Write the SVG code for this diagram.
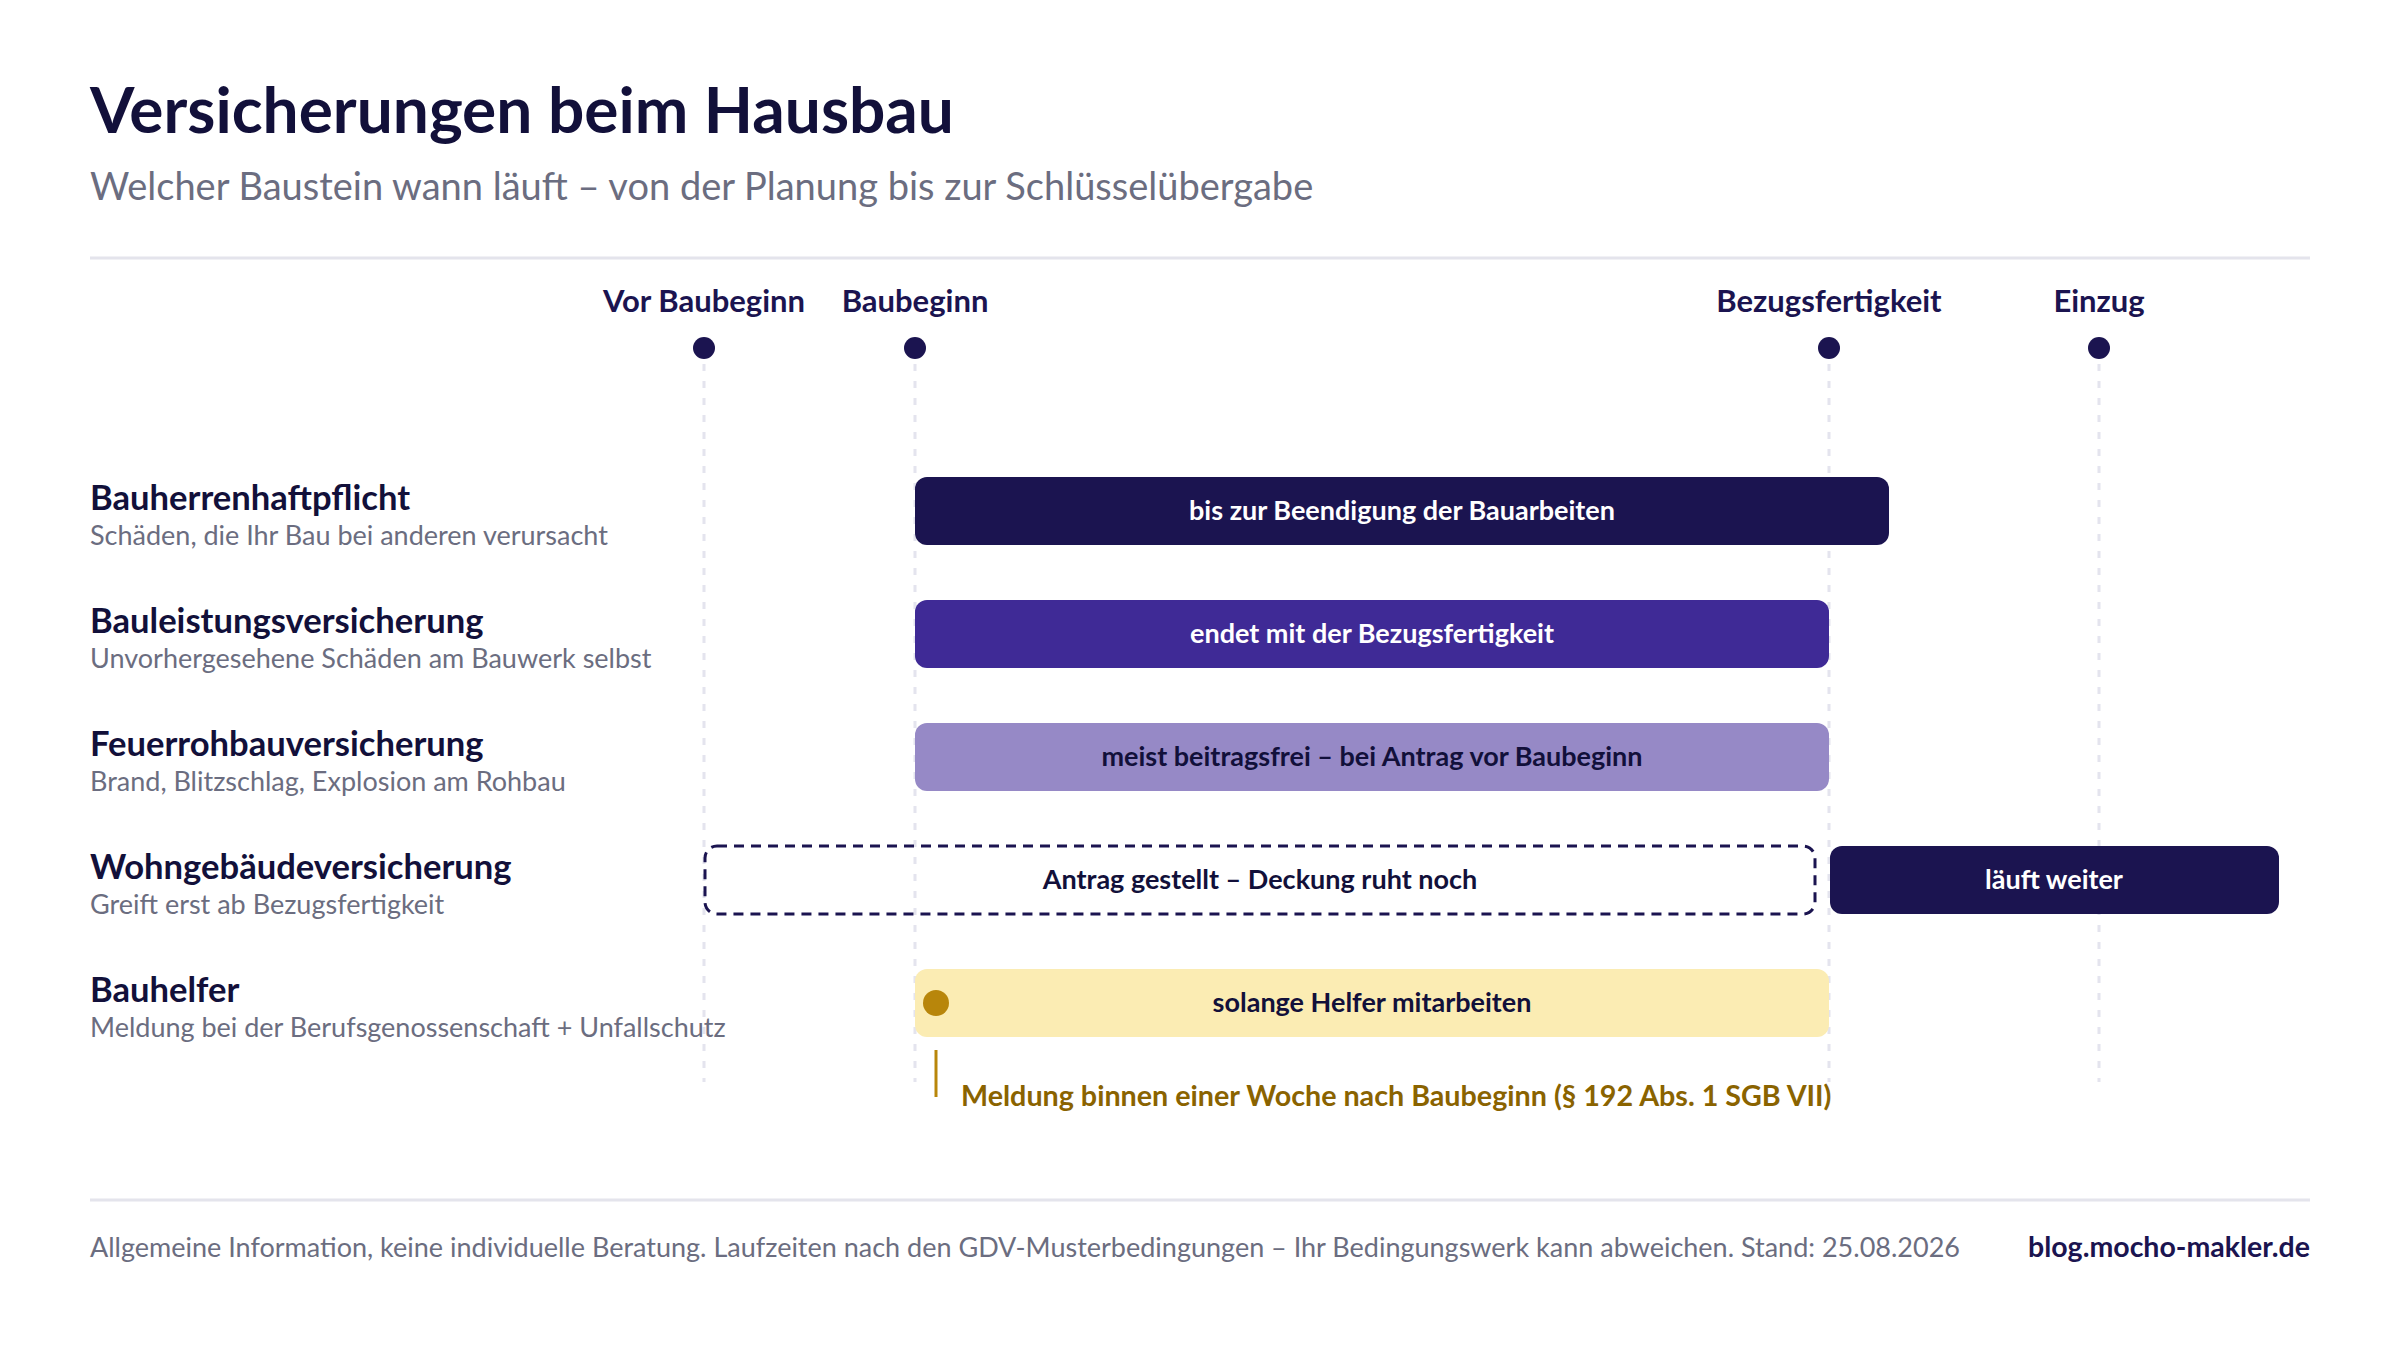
<svg xmlns="http://www.w3.org/2000/svg" width="2400" height="1350" viewBox="0 0 2400 1350">
  <style>
    text { font-family: Lato, "Noto Sans", "Liberation Sans", sans-serif; }
    .title { font-size: 64px; font-weight: 700; fill: #12103a; }
    .subtitle { font-size: 38px; font-weight: 400; fill: #6b6d80; }
    .ms { font-size: 31px; font-weight: 700; fill: #1b1450; text-anchor: middle; }
    .rowt { font-size: 34.6px; font-weight: 700; fill: #12103a; }
    .rows { font-size: 27px; font-weight: 400; fill: #6b6d80; }
    .bl { font-size: 27px; font-weight: 700; text-anchor: middle; }
    .light { fill: #ffffff; }
    .dark { fill: #12103a; }
    .grid { stroke: #e4e4ee; stroke-width: 3; stroke-dasharray: 7 10; fill: none; }
    .sep { stroke: #e4e4ec; stroke-width: 3; }
    .dot { fill: #1b1450; }
    .foot { font-size: 27px; font-weight: 400; fill: #6b6d80; }
    .url { font-size: 28.5px; font-weight: 700; fill: #1b1450; text-anchor: end; }
  </style>
  <rect x="0" y="0" width="2400" height="1350" fill="#ffffff"/>

  <g id="header">
    <text class="title" x="90" y="133">Versicherungen beim Hausbau</text>
    <text class="subtitle" x="90" y="200">Welcher Baustein wann läuft – von der Planung bis zur Schlüsselübergabe</text>
    <line class="sep" x1="90" y1="258" x2="2310" y2="258"/>
  </g>

  <g id="connectors">
    <line class="grid" x1="704" y1="364" x2="704" y2="1082"/>
    <line class="grid" x1="915" y1="364" x2="915" y2="1082"/>
    <line class="grid" x1="1829" y1="364" x2="1829" y2="1082"/>
    <line class="grid" x1="2099" y1="364" x2="2099" y2="1082"/>
  </g>

  <g id="milestone-vor-baubeginn">
    <text class="ms" x="704" y="312">Vor Baubeginn</text>
    <circle class="dot" cx="704" cy="348" r="11"/>
  </g>
  <g id="milestone-baubeginn">
    <text class="ms" x="915" y="312">Baubeginn</text>
    <circle class="dot" cx="915" cy="348" r="11"/>
  </g>
  <g id="milestone-bezugsfertigkeit">
    <text class="ms" x="1829" y="312">Bezugsfertigkeit</text>
    <circle class="dot" cx="1829" cy="348" r="11"/>
  </g>
  <g id="milestone-einzug">
    <text class="ms" x="2099" y="312">Einzug</text>
    <circle class="dot" cx="2099" cy="348" r="11"/>
  </g>

  <g id="row-bauherrenhaftpflicht">
    <text class="rowt" x="90" y="510">Bauherrenhaftpflicht</text>
    <text class="rows" x="90" y="545">Schäden, die Ihr Bau bei anderen verursacht</text>
    <rect x="915" y="477" width="974" height="68" rx="12" fill="#1b1450"/>
    <text class="bl light" x="1402" y="520">bis zur Beendigung der Bauarbeiten</text>
  </g>

  <g id="row-bauleistungsversicherung">
    <text class="rowt" x="90" y="633">Bauleistungsversicherung</text>
    <text class="rows" x="90" y="668">Unvorhergesehene Schäden am Bauwerk selbst</text>
    <rect x="915" y="600" width="914" height="68" rx="12" fill="#3f2a96"/>
    <text class="bl light" x="1372" y="643">endet mit der Bezugsfertigkeit</text>
  </g>

  <g id="row-feuerrohbauversicherung">
    <text class="rowt" x="90" y="756">Feuerrohbauversicherung</text>
    <text class="rows" x="90" y="791">Brand, Blitzschlag, Explosion am Rohbau</text>
    <rect x="915" y="723" width="914" height="68" rx="12" fill="#9689c6"/>
    <text class="bl dark" x="1372" y="766">meist beitragsfrei – bei Antrag vor Baubeginn</text>
  </g>

  <g id="row-wohngebaeudeversicherung">
    <text class="rowt" x="90" y="879">Wohngebäudeversicherung</text>
    <text class="rows" x="90" y="914">Greift erst ab Bezugsfertigkeit</text>
    <rect x="705" y="846" width="1110" height="68" rx="12" fill="none" stroke="#1b1450" stroke-width="3" stroke-dasharray="10 7"/>
    <text class="bl dark" x="1260" y="889">Antrag gestellt – Deckung ruht noch</text>
    <rect x="1830" y="846" width="449" height="68" rx="12" fill="#1b1450"/>
    <text class="bl light" x="2054" y="889">läuft weiter</text>
  </g>

  <g id="row-bauhelfer">
    <text class="rowt" x="90" y="1002">Bauhelfer</text>
    <text class="rows" x="90" y="1037">Meldung bei der Berufsgenossenschaft + Unfallschutz</text>
    <rect x="915" y="969" width="914" height="68" rx="12" fill="#fbecb3"/>
    <circle cx="936" cy="1003" r="13" fill="#b8860b"/>
    <text class="bl dark" x="1372" y="1012">solange Helfer mitarbeiten</text>
    <line x1="936" y1="1050" x2="936" y2="1097" stroke="#b8860b" stroke-width="3"/>
    <text x="961" y="1106" font-size="28.7" font-weight="700" fill="#8a6300">Meldung binnen einer Woche nach Baubeginn (§ 192 Abs. 1 SGB VII)</text>
  </g>

  <g id="footer">
    <line class="sep" x1="90" y1="1200" x2="2310" y2="1200"/>
    <text class="foot" x="90" y="1257">Allgemeine Information, keine individuelle Beratung. Laufzeiten nach den GDV-Musterbedingungen – Ihr Bedingungswerk kann abweichen. Stand: 25.08.2026</text>
    <text class="url" x="2310" y="1257">blog.mocho-makler.de</text>
  </g>
</svg>
